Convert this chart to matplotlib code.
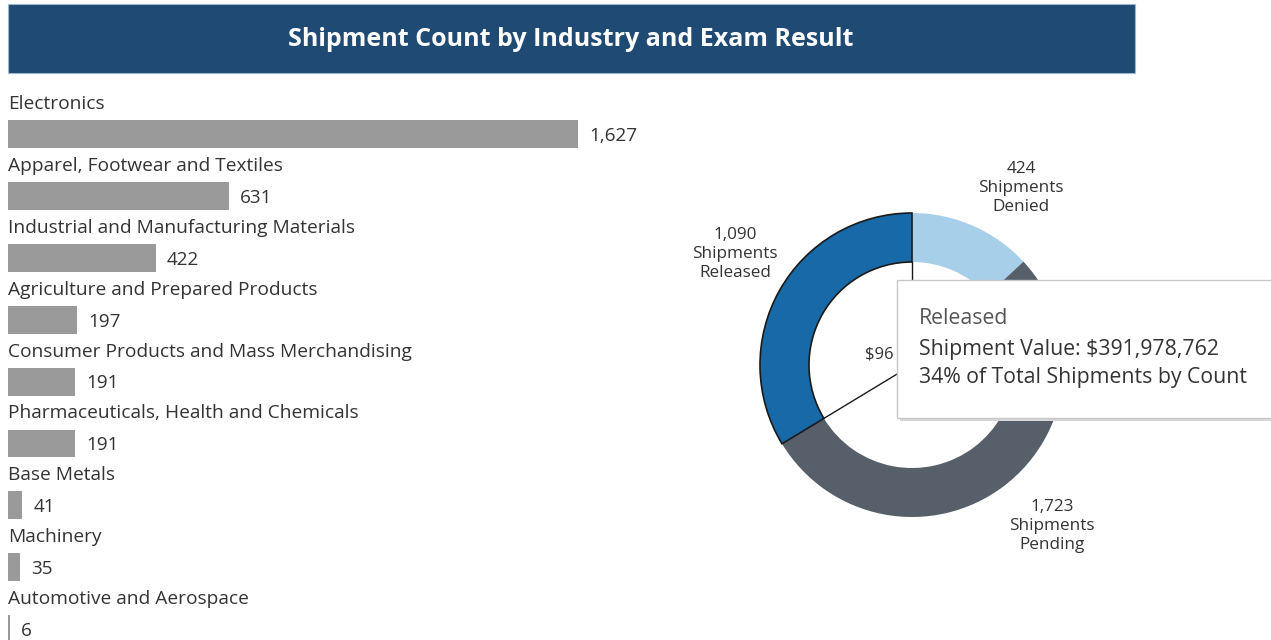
import numpy as np
import matplotlib
matplotlib.use("Agg")
import matplotlib.pyplot as plt
from matplotlib.patches import Rectangle

plt.rcParams['font.family'] = ['Open Sans', 'DejaVu Sans']

# --- data
industries = ["Electronics", "Apparel, Footwear and Textiles",
              "Industrial and Manufacturing Materials",
              "Agriculture and Prepared Products",
              "Consumer Products and Mass Merchandising",
              "Pharmaceuticals, Health and Chemicals",
              "Base Metals", "Machinery", "Automotive and Aerospace"]
shipments = [1627, 631, 422, 197, 191, 191, 41, 35, 6]

results = ["Denied", "Pending", "Released"]
result_counts = [424, 1723, 1090]
result_colors = ["#a8cfea", "#575f6b", "#1769a8"]

# center total is mostly hidden behind the tooltip; only "$96" shows
center_text = "$96"
tooltip_lines = ["Released", "Shipment Value: $391,978,762",
                 "34% of Total Shipments by Count"]

W, H = 1271, 640
fig = plt.figure(figsize=(W / 100, H / 100), dpi=100)
fig.patch.set_facecolor("white")


def fx(px):
    return px / W


def fy(py):
    return 1 - py / H


# --- title bar
fig.patches.append(Rectangle((fx(8), fy(73)), fx(1135) - fx(8), fy(4) - fy(73),
                             transform=fig.transFigure, facecolor="#1f4a74",
                             edgecolor="#9bb7d0", linewidth=0.8))
fig.text(fx(571), fy(39), "Shipment Count by Industry and Exam Result",
         color="white", fontsize=18, fontweight="bold", ha="center", va="center")

# --- bar chart
row = 61.9
ax = fig.add_axes([fx(8), fy(640), fx(658) - fx(8), fy(90) - fy(640)])
ypos = np.arange(len(industries))
ax.barh(ypos, shipments, height=0.45, color="#9a9a9a")
ax.set_xlim(0, 650 / 0.3503)
ax.set_ylim((640 - 134) / row, (90 - 134) / row)
for i, (name, v) in enumerate(zip(industries, shipments)):
    ax.text(0, i - 0.485, name, ha="left", va="center", fontsize=13.8, color="#333333")
    ax.text(v + 32, i + 0.03, f"{v:,}", ha="left", va="center", fontsize=13.6, color="#333333")
ax.axis("off")

# --- donut
R, RIN = 152, 103
half = 200
ax2 = fig.add_axes([fx(912 - half), fy(365 + half), fx(2 * half), 2 * half / H])
wedges, _ = ax2.pie(result_counts, radius=R, startangle=90, counterclock=False,
                    colors=result_colors,
                    wedgeprops=dict(width=R - RIN, linewidth=0))
ax2.set_xlim(-half, half)
ax2.set_ylim(-half, half)
ax2.set_aspect("equal")
ax2.axis("off")
# highlight released wedge
rel = wedges[2]
rel.set_edgecolor("#1a1a1a")
rel.set_linewidth(1.2)
for ang in (rel.theta1, rel.theta2):
    a = np.deg2rad(ang)
    ax2.plot([0, RIN * np.cos(a)], [0, RIN * np.sin(a)], color="#1a1a1a", lw=1.0)

fig.text(fx(865), fy(354), center_text, ha="left", va="center", fontsize=12, color="#333333")

lab = dict(ha="center", va="center", fontsize=12.3, color="#333333", linespacing=1.22)
fig.text(fx(1021), fy(188), f"{result_counts[0]:,}\nShipments\n{results[0]}", **lab)
fig.text(fx(735), fy(254), f"{result_counts[2]:,}\nShipments\n{results[2]}", **lab)
fig.text(fx(1052), fy(526), f"{result_counts[1]:,}\nShipments\n{results[1]}", **lab)

# --- tooltip
fig.patches.append(Rectangle((fx(900), fy(421)), fx(380), fy(283) - fy(421),
                             transform=fig.transFigure, facecolor="#d6d6d6",
                             edgecolor="none", zorder=10))
fig.patches.append(Rectangle((fx(897), fy(418)), fx(380), fy(280) - fy(418),
                             transform=fig.transFigure, facecolor="white",
                             edgecolor="#c8c8c8", linewidth=1.0, zorder=11))
fig.text(fx(919), fy(319), tooltip_lines[0], ha="left", va="center",
         fontsize=15.3, color="#555555", zorder=12)
fig.text(fx(919), fy(349), tooltip_lines[1], ha="left", va="center",
         fontsize=15.3, color="#333333", zorder=12)
fig.text(fx(919), fy(378), tooltip_lines[2], ha="left", va="center",
         fontsize=15.3, color="#333333", zorder=12)

fig.savefig("out.png", dpi=100)
